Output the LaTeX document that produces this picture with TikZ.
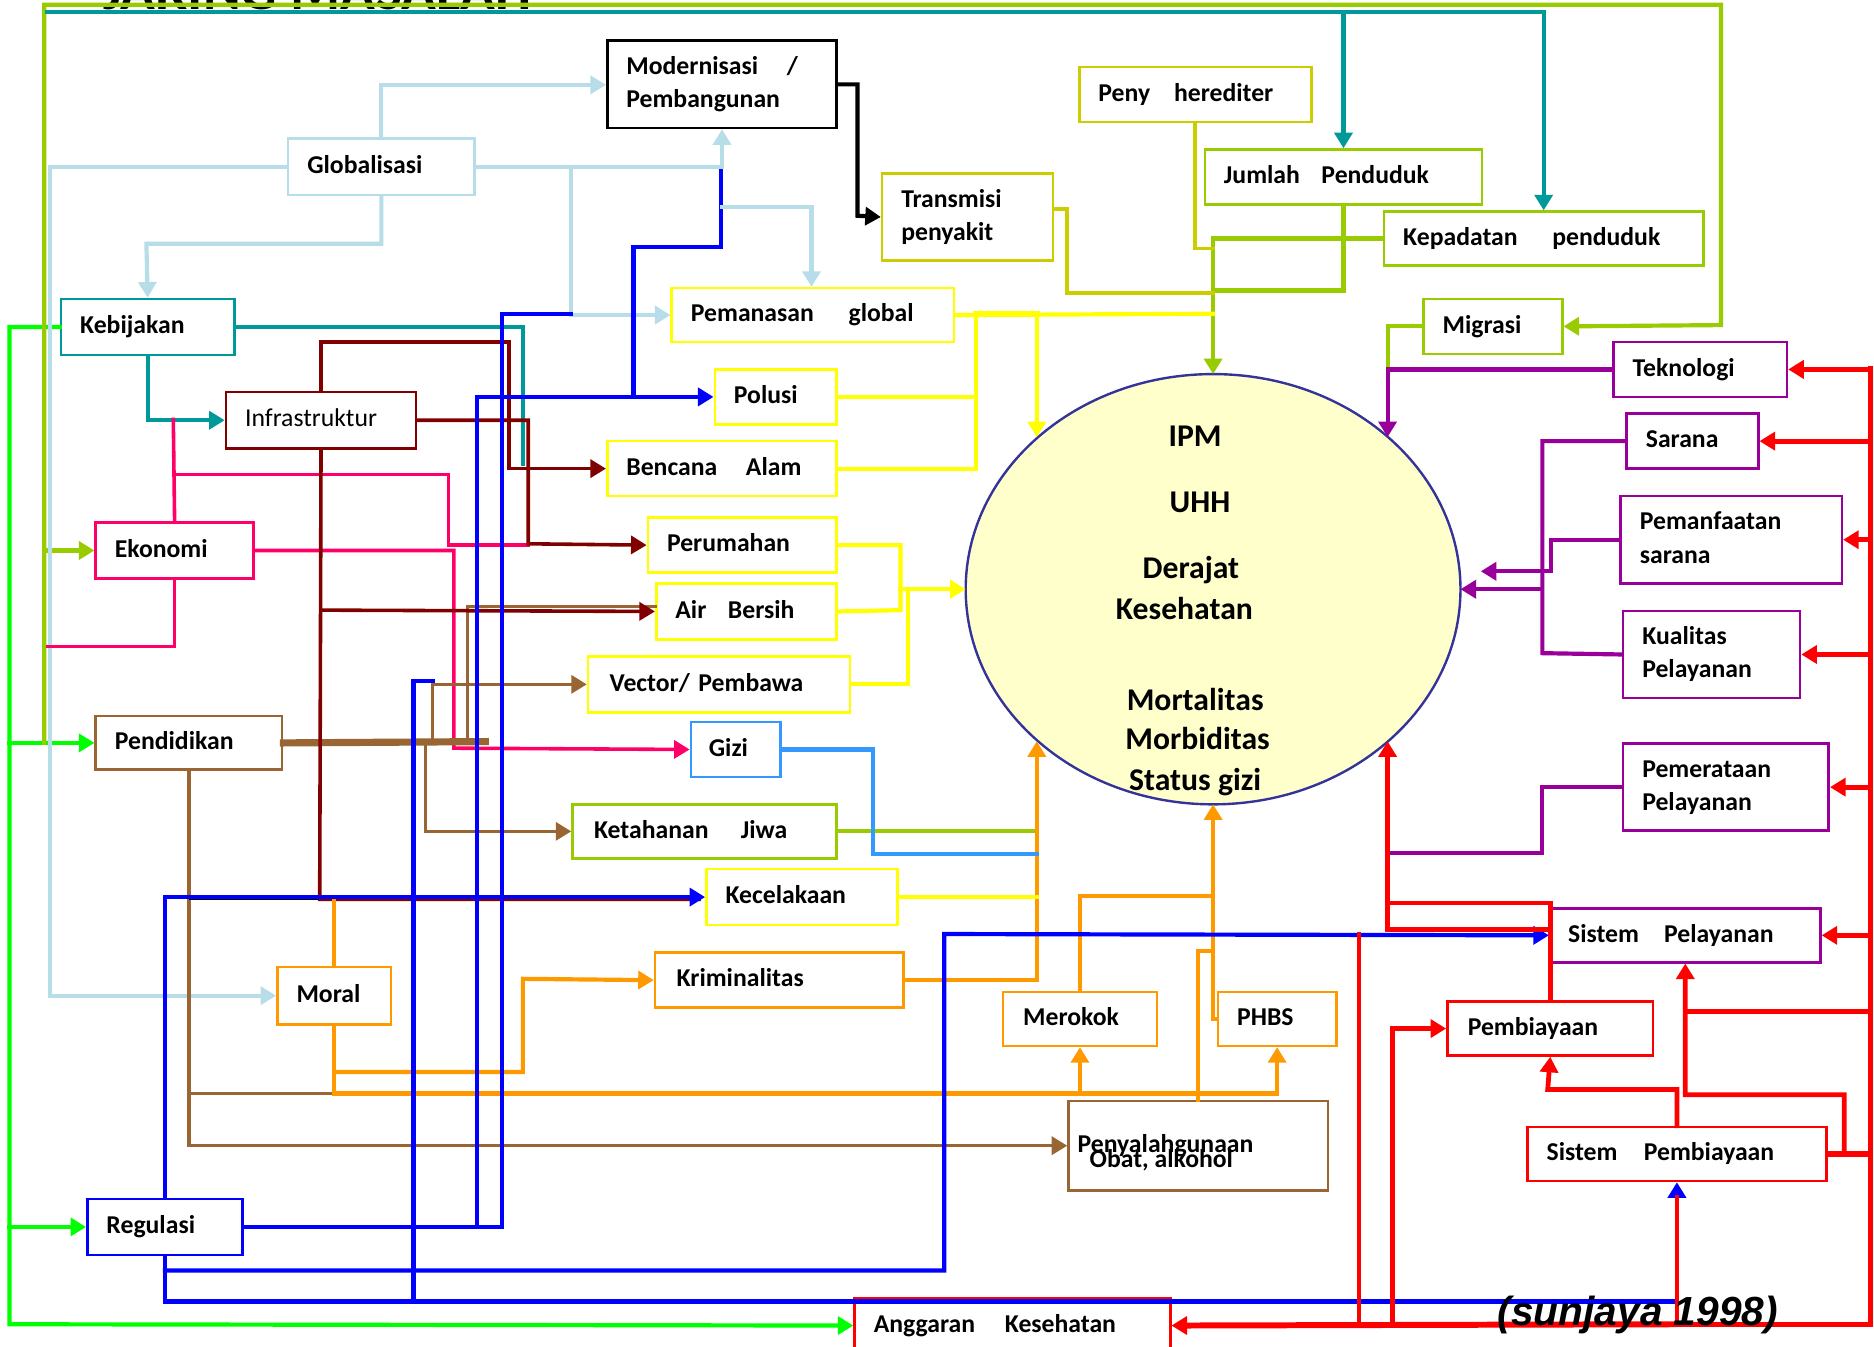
\documentclass[tikz,border=0pt]{standalone}
\usepackage{fontspec}
\setmainfont{Carlito}
\newfontfamily\credfam{Liberation Sans}
\usetikzlibrary{arrows.meta,shapes.geometric}

\definecolor{cLB}{RGB}{183,221,232}
\definecolor{cTeal}{RGB}{0,153,153}
\definecolor{cOG}{RGB}{153,204,0}
\definecolor{cOY}{RGB}{204,204,0}
\definecolor{cYel}{RGB}{255,255,0}
\definecolor{cDR}{RGB}{128,0,0}
\definecolor{cPink}{RGB}{255,0,102}
\definecolor{cBrown}{RGB}{153,102,51}
\definecolor{cBlue}{RGB}{0,0,255}
\definecolor{cOr}{RGB}{255,153,0}
\definecolor{cGz}{RGB}{51,153,255}
\definecolor{cPur}{RGB}{153,0,153}
\definecolor{cRed}{RGB}{255,0,0}
\definecolor{cGreen}{RGB}{0,255,0}
\definecolor{cNavy}{RGB}{51,51,153}
\definecolor{cCream}{RGB}{255,255,204}

\newcommand\boxfont{\fontsize{21.5}{28}\selectfont\bfseries}
\newcommand\boxfontreg{\fontsize{21.5}{28}\selectfont}
\newcommand\ellfont{\fontsize{26.5}{30}\selectfont\bfseries}

\tikzset{
  bx/.style={draw=#1, fill=white, line width=2.2pt, anchor=north west,
    inner xsep=16pt, inner ysep=0pt, align=left, font=\boxfont,
    execute at begin node=\strut, execute at end node=\strut},
  etx/.style={anchor=base, font=\ellfont},
  conn/.style={line width=3.5pt, line cap=rect},
  arr/.style={-{Triangle[length=13pt,width=15pt]}},
  Llb/.style={conn, draw=cLB},
  Ltl/.style={conn, draw=cTeal},
  Lgr/.style={conn, draw=cGreen},
  Log/.style={conn, draw=cOG},
  Loy/.style={conn, draw=cOY, line width=3pt},
  Lbk/.style={conn, draw=black},
  Lpk/.style={conn, draw=cPink, line width=3pt},
  Ldr/.style={conn, draw=cDR, line width=3pt},
  Lbr/.style={conn, draw=cBrown, line width=3pt},
  Lor/.style={conn, draw=cOr},
  Lyl/.style={conn, draw=cYel},
  Lgz/.style={conn, draw=cGz},
  Lbl/.style={conn, draw=cBlue},
  Lpu/.style={conn, draw=cPur},
  Lrd/.style={conn, draw=cRed, line width=4pt},
}

\begin{document}
\begin{tikzpicture}[x=1pt,y=-1pt]
\useasboundingbox (0,0) rectangle (1568,1127);
\fill[white] (0,0) rectangle (1568,1127);

% heading, mostly above the page edge
\node[anchor=base west, font=\fontsize{48}{50}\selectfont\bfseries, inner sep=0pt] (ttl) at (86,8) {JARING MASALAH};

% ---------- central ellipse ----------
\node[ellipse, draw=cNavy, fill=cCream, line width=2pt, minimum width=414pt,
      minimum height=360pt, inner sep=0pt, outer sep=0pt] (ell) at (1015,493) {};
\node[etx] (e1) at (1000,374) {IPM};
\node[etx] (e2) at (1004,429) {UHH};
\node[etx] (e3) at (996.5,484) {Derajat};
\node[etx] (e4) at (991,518) {Kesehatan};
\node[etx] (e5) at (1000,594.5) {Mortalitas};
\node[etx] (e6) at (1002,627.5) {Morbiditas};
\node[etx] (e7) at (1000,661) {Status gizi};

% ---------- boxes ----------
\node[bx=black, text width=160pt, minimum height=73pt] (mod) at (507,33) {Modernisasi\hspace{24pt}/\\Pembangunan};
\node[bx=cLB, text width=124pt, minimum height=47pt] (glob) at (240,115) {Globalisasi};
\node[bx=cTeal, text width=113pt, minimum height=47pt] (keb) at (50,249) {Kebijakan};
\node[bx=cDR, text width=127pt, minimum height=47pt, font=\boxfontreg] (infra) at (188,327) {Infrastruktur};
\node[bx=cPink, text width=100pt, minimum height=47pt] (ekon) at (79,436) {Ekonomi};
\node[bx=cBrown, text width=124pt, minimum height=45pt] (pend) at (79,598) {Pendidikan};
\node[bx=cBlue, text width=98pt, minimum height=47pt] (reg) at (72,1002) {Regulasi};
\node[bx=cOr, text width=63pt, minimum height=48pt] (moral) at (231,808) {Moral};

\node[bx=cOY, text width=111pt, minimum height=73pt] (tra) at (737,144) {Transmisi\\penyakit};
\node[bx=cOY, text width=162pt, minimum height=46pt] (peny) at (902,55) {Peny\hspace{20pt}herediter};
\node[bx=cOG, text width=200pt, minimum height=46pt] (jum) at (1007,124) {Jumlah\hspace{18pt}Penduduk};
\node[bx=cOG, text width=235pt, minimum height=45pt] (kep) at (1157,176) {Kepadatan\hspace{29pt}penduduk};
\node[bx=cOG, text width=84pt, minimum height=46pt] (mig) at (1190,249) {Migrasi};

\node[bx=cPur, text width=113pt, minimum height=46pt] (tek) at (1349,285) {Teknologi};
\node[bx=cPur, text width=78pt, minimum height=46pt] (sar) at (1360,345) {Sarana};
\node[bx=cPur, text width=153pt, minimum height=73pt] (pmf) at (1355,414) {Pemanfaatan\\sarana};
\node[bx=cPur, text width=116pt, minimum height=73pt] (kua) at (1357,510) {Kualitas\\Pelayanan};
\node[bx=cPur, text width=140pt, minimum height=73pt] (pmr) at (1357,621) {Pemerataan\\Pelayanan};
\node[bx=cPur, text width=196pt, minimum height=45pt, inner xsep=15pt] (spl) at (1296,759) {Sistem\hspace{21pt}Pelayanan};
\node[bx=cRed, text width=138pt, minimum height=45pt, inner xsep=17pt] (pby) at (1210,837) {Pembiayaan};
\node[bx=cRed, text width=218pt, minimum height=45pt] (spb) at (1277,942) {Sistem\hspace{22pt}Pembiayaan};
\node[bx=cRed, text width=232pt, minimum height=46pt] (ang) at (714,1085) {Anggaran\hspace{25pt}Kesehatan};

\node[bx=cYel, text width=204pt, minimum height=45pt] (pem) at (561,240) {Pemanasan\hspace{29pt}global};
\node[bx=cYel, text width=70pt, minimum height=46pt] (pol) at (597,308) {Polusi};
\node[bx=cYel, text width=160pt, minimum height=46pt] (ben) at (507,368) {Bencana\hspace{24pt}Alam};
\node[bx=cYel, text width=126pt, minimum height=46pt] (per) at (541,432) {Perumahan};
\node[bx=cYel, text width=119pt, minimum height=47pt] (air) at (548,487) {Air\hspace{18pt}Bersih};
\node[bx=cYel, text width=183pt, minimum height=47pt, inner xsep=18pt] (vec) at (491,548) {Vector/ Pembawa};
\node[bx=cGz, text width=45pt, minimum height=46pt, inner xsep=15pt] (gizi) at (577,603) {Gizi};
\node[bx=cOG, text width=185pt, minimum height=45pt, inner xsep=18pt] (ket) at (478,672) {Ketahanan\hspace{27pt}Jiwa};
\node[bx=cYel, text width=128pt, minimum height=47pt] (kec) at (590,726) {Kecelakaan};
\node[bx=cOr, text width=172pt, minimum height=46pt, inner xsep=18pt] (krim) at (547,796) {Kriminalitas};
\node[bx=cOr, text width=95pt, minimum height=45pt, inner xsep=17pt] (mer) at (838,829) {Merokok};
\node[bx=cOr, text width=67pt, minimum height=45pt] (phbs) at (1018,829) {PHBS};
\node[bx=cBrown, text width=185pt, minimum height=75pt] (pen) at (893,920) {};
\node[anchor=base west, font=\boxfont, inner sep=0pt] (pen1) at (901.5,964) {Penyalahgunaan};
\node[anchor=base west, font=\boxfont, inner sep=0pt] (pen2) at (911.5,977) {Obat, alkohol};

% ---------- connectors ----------
% bright green: Kebijakan feeding the left column and the budget
\draw[Lgr,arr] (keb.west) -| (8,1108) -- (ang.west);
\draw[Lgr,arr] (pend.west -| 8,0) -- (pend.west);
\draw[Lgr,arr] (reg.west -| 8,0) -- (reg.west);

% yellow-green frame and population links
\draw[Log,arr] (pend.west -| 37,0) -- (37,4) -| (1440,272) -- (mig.east);
\draw[Log,arr] (ekon.west -| 37,0) -- (ekon.west);
\draw[Log] (jum.south) |- (1015,243);
\draw[Log,arr] (kep.west) -| (ell.north);
\draw[Log] (mig.west) -| (1161,308);
\draw[Log] (ket.east) -- (ket.east -| 867.5,0);

% olive
\draw[Loy] (peny.south) |- (1015,208);
\draw[Loy] (tra.east |- 0,175) -| (893,245) -- (1015,245);

% light blue from Globalisasi
\draw[Llb,arr] (glob.north) |- (mod.west |- 0,71);
\draw[Llb,arr] (glob.west) -| (41.5,600) |- (moral.west);
\draw[Llb,arr] (glob.south) |- (122.5,204) -- (keb.north);
\draw[Llb,arr] (glob.east -| 478,0) |- (pem.west);

% teal
\draw[Ltl] (39,10) -- (1290.5,10);
\draw[Ltl,arr] (jum.north |- 0,10) -- (jum.north);
\draw[Ltl,arr] (kep.north |- 0,10) -- (kep.north);
\draw[Ltl] (keb.east) -| (437.5,388);
\draw[Ltl,arr] (keb.south) |- (infra.west);

% black
\draw[Lbk,arr] (mod.east) -| (717.5,180.5) -- (tra.west);

% pink from Ekonomi
\draw[Lpk] (145,351) -- (ekon.north);
\draw[Lpk] (145,397) -| (375.3,456) -- (442,456);
\draw[Lpk,arr] (ekon.east) -| (379.8,626) -- (gizi.west);
\draw[Lpk] (ekon.south) |- (40,541);

% brown from Pendidikan
\draw[Lbr,line width=6pt] (pend.east) -- (406,620.5);
\draw[Lbr] (391,620.5) |- (548,507.5);
\draw[Lbr,arr] (362,620.5) |- (vec.west);
\draw[Lbr,arr] (356,620.5) |- (ket.west);
\draw[Lbr,arr] (pend.south) |- (pen.west);
\draw[Lbr] (pend.south |- 0,915) -- (278.5,915);

% dark red from Infrastruktur
\draw[Ldr,arr] (infra.north) |- (426,286) |- (ben.west);
\draw[Ldr,arr] (infra.east) -| (442,455) -- (per.west);
\draw[Ldr] (infra.south) -- (267.5,752.5) -- (585,752.5);
\draw[Ldr,arr] (infra.south |- 0,510.5) -- (air.west);
\draw[line width=1.5pt] (158,752.5) -- (266,752.5);

% orange
\draw[Lor] (moral.north) -- (moral.north |- 0,751);
\draw[Lor] (moral.south) |- (1067.5,915);
\draw[Lor,arr] (mer.south |- 0,915) -- (mer.south);
\draw[Lor,arr] (phbs.south |- 0,915) -- (phbs.south);
\draw[Lor,arr] (moral.south |- 0,897) -| (437.5,819) -- (krim.west);
\draw[Lor,arr] (krim.east) -| (ell.221 -| 867.5,0);
\draw[Lor] (pen.north) |- (1015,795.5);
\draw[Lor] (phbs.west) -| (1015,750);
\draw[Lor,arr] (mer.north) |- (1015,750) -- (ell.south);

% yellow
\draw[Lyl] (pem.east) -- (1015,262.5);
\draw[Lyl] (pol.east) -| (816.5,262.5);
\draw[Lyl] (ben.east) -| (816.5,331);
\draw[Lyl,line width=5pt] (816.5,262.5) -- (867.5,262.5);
\draw[Lyl,arr] (867.5,262.5) -- (ell.139 -| 867.5,0);
\draw[Lyl] (per.east) -| (753.5,510.5) -- (air.east);
\draw[Lyl,arr] (753.5,493) -- (ell.west);
\draw[Lyl] (vec.east) -| (760,493);
\draw[Lyl] (kec.east) -- (kec.east -| 867.5,0);

% Gizi
\draw[Lgz] (gizi.east) -| (730.5,714.5) -- (867.5,714.5);

% blue from Regulasi
\draw[Lbl] (reg.east) -| (420,262.5) -- (478,262.5);
\draw[Lbl,arr] (reg.east -| 399,0) |- (pol.west);
\draw[Lbl] (pol.west -| 530,0) |- (603,207) -- (603,140);
\draw[Lbl,arr] (reg.north) |- (kec.west);
\draw[Lbl,arr] (reg.south) |- (spb.south |- 0,1089) -- (spb.south);
\draw[Lbl,arr] (reg.south |- 0,1063) -| (790,781.5) -- (spl.west);
\draw[Lbl] (346,1089) |- (362,570);

% light blue arrows into Modernisasi and Pemanasan
\draw[Llb,arr] (glob.east) -| (mod.south);
\draw[Llb,arr] (mod.south |- 0,173) -| (pem.north -| 679,0);

% purple
\coordinate (pmfend) at (1239,478);
\draw[Lpu,arr] (tek.west) -| (ell.41 -| 1161,0);
\draw[Lpu] (sar.west) -| (1290.5,546.5) -- (kua.west);
\draw[Lpu,arr] (1290.5,493) -- (ell.east);
\draw[Lpu,arr] (pmf.west) -| (1298,478) -- (pmfend);
\draw[Lpu] (pmr.west) -| (1290.5,714) -- (1161,714);

% red
\draw[Lrd] (1565,308) -- (1565,1108) -- (1401,1108);
\draw[Lrd,arr] (tek.east -| 1565,0) -- (tek.east);
\draw[Lrd,arr] (sar.east -| 1565,0) -- (sar.east);
\draw[Lrd,arr] (pmf.east -| 1565,0) -- (pmf.east);
\draw[Lrd,arr] (kua.east -| 1565,0) -- (kua.east);
\draw[Lrd,arr] (pmr.east -| 1565,0) -- (pmr.east);
\draw[Lrd,arr] (spl.east -| 1565,0) -- (spl.east);
\draw[Lrd,arr,line width=5pt] (1401,1108) -- (ang.east);
\draw[Lrd,line width=5pt] (spb.east) -- (spb.east -| 1565,0);
\draw[Lrd,arr] (1543,964.5) |- (1410,916) -- (spl.south);
\draw[Lrd] (1565,846) -- (1410,846);
\draw[Lrd,arr] (spb.north) |- (1295,911.5) -- (pby.south);
\draw[Lrd] (pby.north) |- (1161,755.5);
\draw[Lrd,arr] (spl.west |- 0,778) -| (ell.319 -| 1161,0);
\draw[Lrd] (1137,1108) -- (1137,781.5);
\draw[Lrd,arr] (1165,1108) |- (pby.west);
\draw[Lrd] (spb.south |- 0,1108) -- (spb.south |- 0,1002);

% source note
\node[anchor=base west, inner sep=0pt, font=\credfam\fontsize{34}{38}\selectfont\bfseries\itshape] (src) at (1253,1109) {(sunjaya 1998)};
\end{tikzpicture}
\end{document}
